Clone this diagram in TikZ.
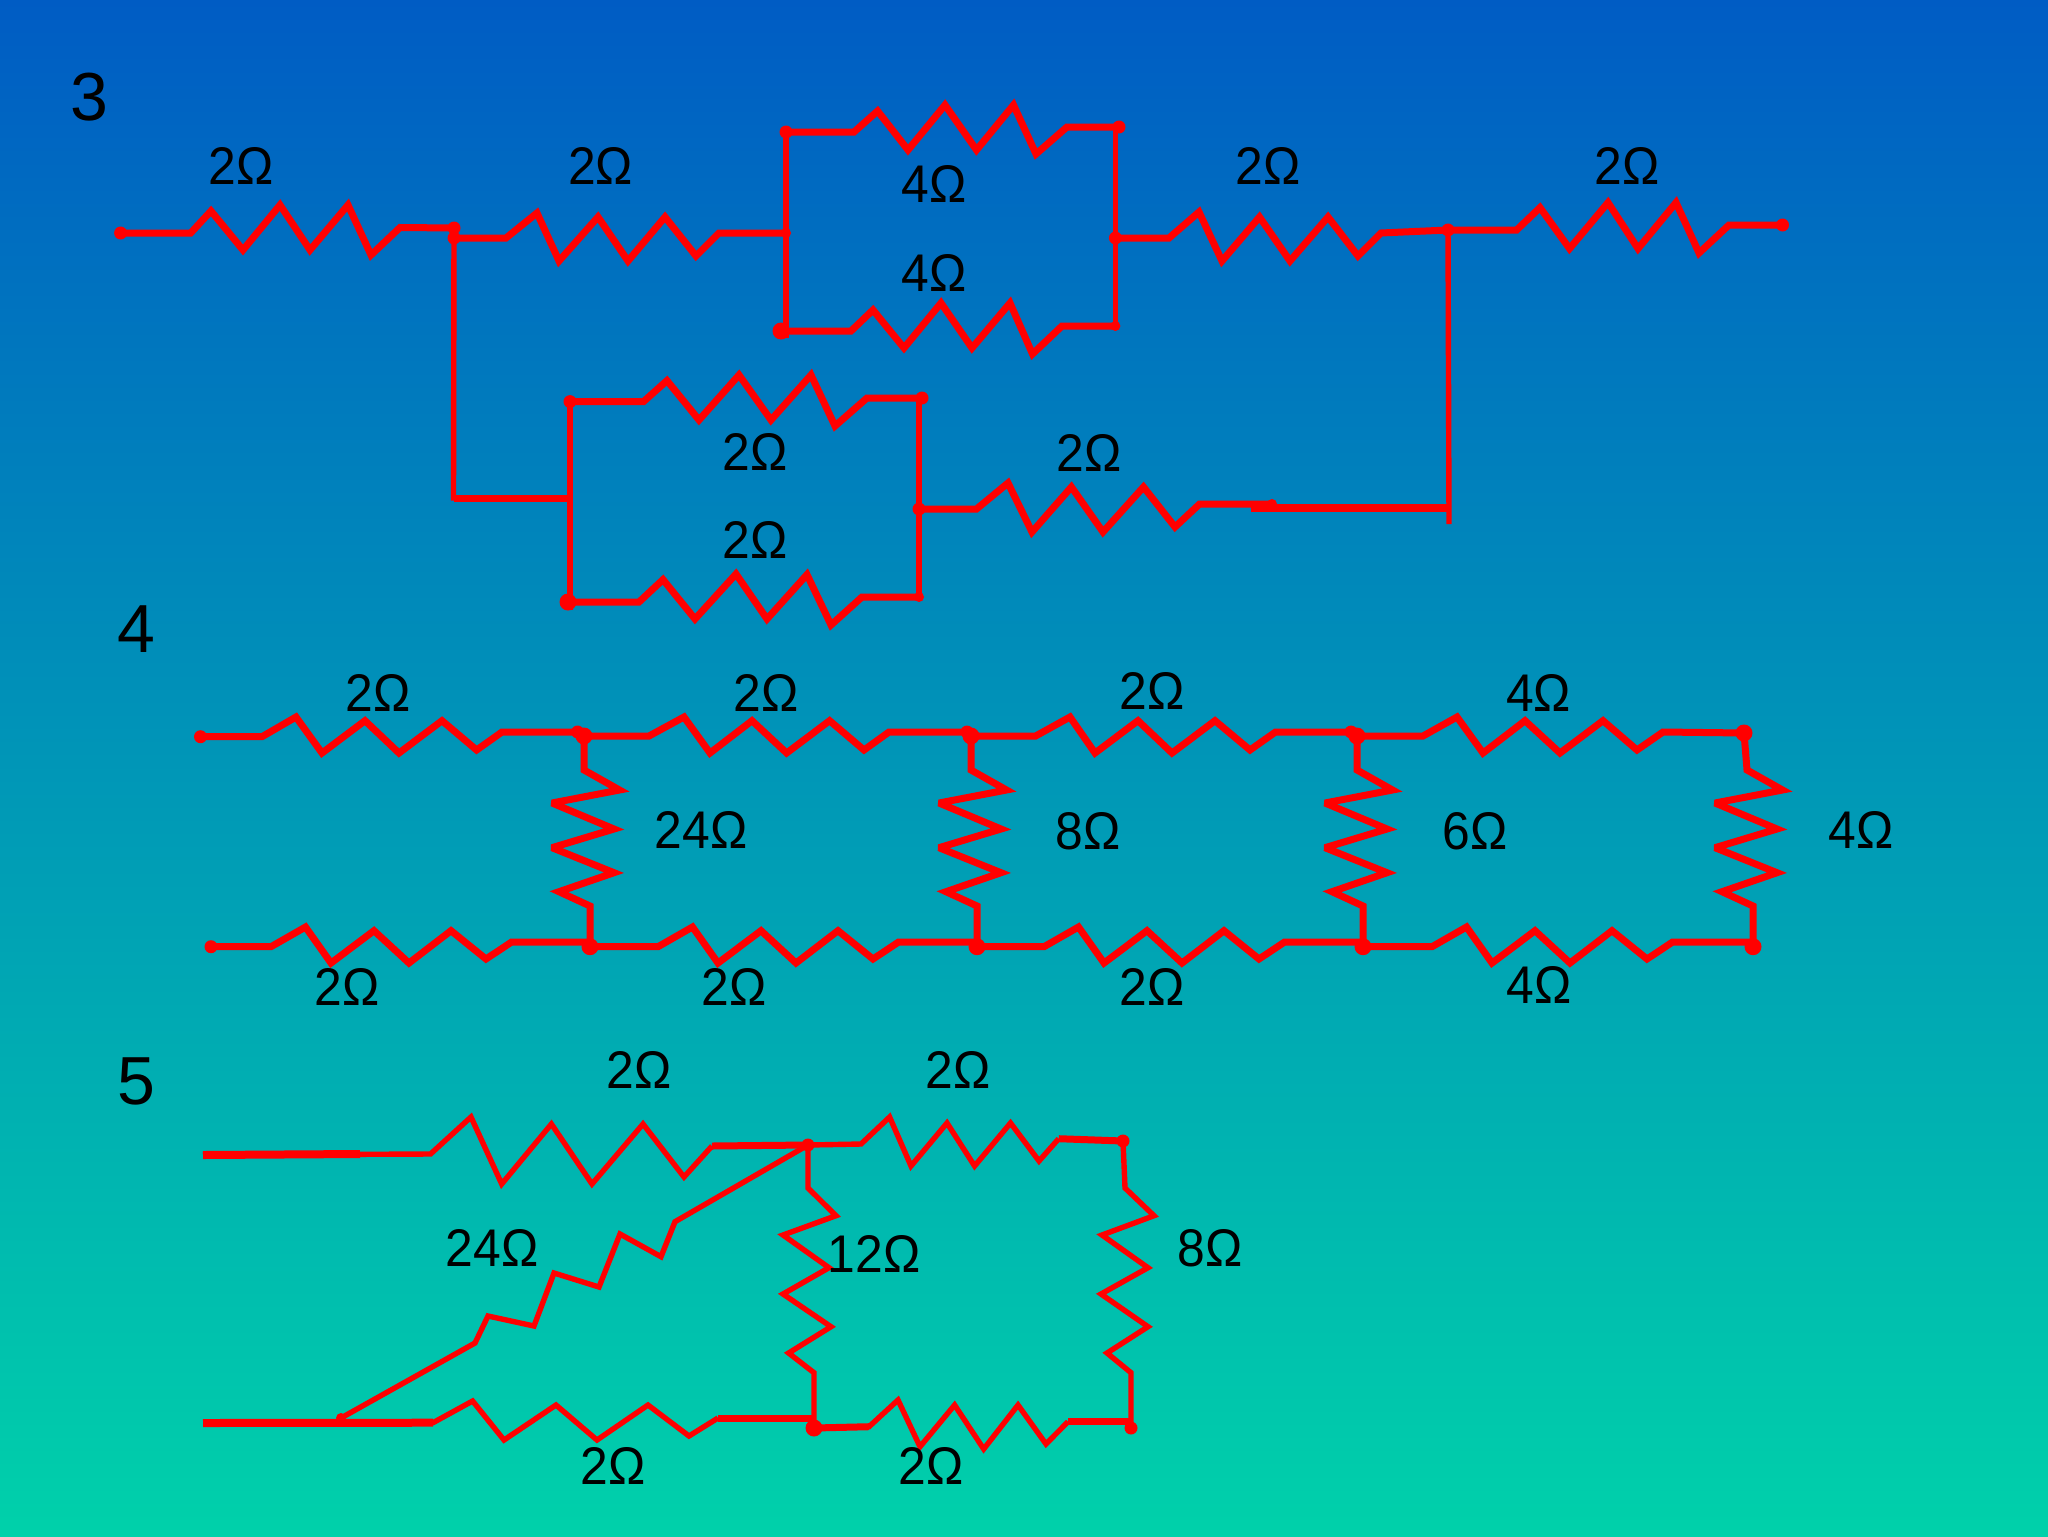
\documentclass[tikz,border=0pt]{standalone}
\usepackage{fontspec}
\usepackage{graphicx}
\setmainfont{Liberation Sans}
\definecolor{wirered}{RGB}{255,0,0}
\definecolor{bgtop}{RGB}{0,92,196}
\definecolor{bgbot}{RGB}{0,209,170}
\newcommand{\ohmtxt}[1]{\scalebox{.94}[1]{#1Ω}}
\tikzset{
  wire/.style={draw=wirered,line width=3.5pt,line join=miter,miter limit=3},
  thinwire/.style={draw=wirered,line width=2.7pt,line join=miter,miter limit=3},
  dot/.style={circle,fill=wirered,inner sep=0pt,minimum size=6.5pt},
  bigdot/.style={circle,fill=wirered,inner sep=0pt,minimum size=8.5pt},
  smalldot/.style={circle,fill=wirered,inner sep=0pt,minimum size=5pt},
  lbl/.style={inner sep=0pt,text=black,font=\fontsize{26.5}{30}\selectfont},
  num/.style={inner sep=0pt,text=black,font=\fontsize{34}{38}\selectfont}
}
\begin{document}
\begin{tikzpicture}[x=0.5pt,y=-0.5pt]
\useasboundingbox (0,0) rectangle (2048,1536);
\shade[top color=bgtop,bottom color=bgbot] (0,0) rectangle (2048,1536);

% ---------- circuit 3 ----------
\node[dot] (a0) at (120.6,233) {};
\node[dot] (a1) at (454,228) {};
\node[dot] (a2) at (454,238) {};
\node[smalldot] (a3) at (786,233) {};
\node[dot] (a4) at (786,132) {};
\node[bigdot] (a5) at (781,331) {};
\node[dot] (a6) at (1119,127) {};
\node[smalldot] (a7) at (1115.4,326) {};
\node[dot] (a8) at (1115.4,238) {};
\node[dot] (a9) at (1448,230) {};
\node[dot] (a10) at (1782.5,225) {};
\node[dot] (b1) at (570,401.6) {};
\node[dot] (b2) at (922,398) {};
\node[bigdot] (b3) at (568,602) {};
\node[smalldot] (b4) at (919,597) {};
\node[dot] (b5) at (919,509) {};
\node[smalldot] (b6) at (1272,504) {};
\coordinate (c1) at (453.5,498);
\coordinate (c2) at (570,498);
\coordinate (c3) at (1449,507.7);
\coordinate (c4) at (1250.6,507.7);
\coordinate (c5) at (1449,524);
\coordinate (c6) at (570,610);
\coordinate (c8) at (786,338);

\draw[wire] (a0.center) -- (190.7,233) -- (211,211) -- (243,250) -- (280,205) -- (310,250) -- (348,205) -- (371,255) -- (400,227.5) -- (a1.center);
\draw[wire] (a2.center) -- (506,238) -- (537,213) -- (559,261) -- (598,217) -- (628,261) -- (665,217) -- (696,256) -- (719,233) -- (a3.center);
\draw[wire] (a4.center) -- (854,132) -- (877.6,111) -- (908,150) -- (945,105) -- (976.5,150) -- (1013.5,105) -- (1036,154) -- (1067,127) -- (a6.center);
\draw[wire] (a5.center) -- (851,331) -- (873,310) -- (904,348) -- (941,303) -- (972,348) -- (1010,303) -- (1032.5,354) -- (1062,326) -- (a7.center);
\draw[wire] (a8.center) -- (1169,238) -- (1199,212) -- (1222,261) -- (1259.5,217) -- (1290,261) -- (1328,217) -- (1358,256) -- (1381,233) -- (a9.center);
\draw[wire] (a9.center) -- (1516.6,230) -- (1540,207.6) -- (1569.5,248.6) -- (1608,202.6) -- (1638,248.6) -- (1676,202.6) -- (1699,253) -- (1729,225) -- (a10.center);
\draw[thinwire] (a4.center) -- (c8);
\draw[thinwire] (a6.center -| a7) -- (a7.center);
\draw[thinwire] (a1.center) -- (c1) -- (c2);
\draw[wire] (c1) -- (c2);
\draw[thinwire] (b1.center) -- (b1 |- c6);
\draw[wire] (b1.center) -- (643.5,401.6) -- (667,380.6) -- (699,420) -- (739,375) -- (771,420) -- (811,375) -- (835,426) -- (867,398) -- (b2.center);
\draw[wire] (b3.center) -- (639,602) -- (663,579.6) -- (695,619) -- (736,574) -- (767,619) -- (807,574.6) -- (831,625) -- (862,597) -- (b4.center);
\draw[thinwire] (b2 -| b4) -- (b4.center);
\draw[wire] (b5.center) -- (976.5,509) -- (1008,483) -- (1032,532) -- (1071.4,487) -- (1103,532) -- (1143.5,487) -- (1175,527) -- (1199.6,504) -- (b6.center);
\draw[wire,line width=4pt] (c4) -- (c3);
\draw[thinwire] (a9.center) -- (c5);

% ---------- circuit 4 ----------
\node[dot] (d0) at (200.5,736.7) {};
\node[dot] (d1) at (577.6,732) {};
\node[bigdot] (d2) at (584,736) {};
\node[dot] (d3) at (967,732) {};
\node[bigdot] (d4) at (971,736) {};
\node[dot] (d5) at (1351,732) {};
\node[bigdot] (d6) at (1357,736) {};
\node[bigdot] (d7) at (1744,733) {};
\node[dot] (e0) at (211,946.7) {};
\node[bigdot] (e1) at (590,946.7) {};
\node[bigdot] (e2) at (977,946.7) {};
\node[bigdot] (e3) at (1363,946.7) {};
\node[bigdot] (e4) at (1753,946.7) {};

\draw[wire] (d0.center) -- (262,736.7) -- (296,717) -- (322,753) -- (365,720.7) -- (399,753) -- (442,720.7) -- (476.6,750) -- (502,732) -- (d1.center);
\draw[wire] (d2.center) -- (649,736) -- (684,717) -- (710,753) -- (752,720.7) -- (786.6,753) -- (829.6,720.7) -- (864,750) -- (889,732) -- (d3.center);
\draw[wire] (d4.center) -- (1035.6,736) -- (1070,717) -- (1095,753) -- (1138,720.7) -- (1172,753) -- (1215,720.7) -- (1250,750) -- (1275.5,732) -- (d5.center);
\draw[wire] (d6.center) -- (1423,736) -- (1457,717) -- (1483,753) -- (1525,720.7) -- (1560,753) -- (1603,720.7) -- (1637,750) -- (1663,732) -- (d7.center);
\draw[wire] (e0.center) -- (271,946.7) -- (305.5,927) -- (331,963) -- (374,930.7) -- (409,963) -- (451,930.7) -- (486,959) -- (511.6,942) -- (590,942);
\draw[wire] (e1.center) -- (658,946.7) -- (692.5,927) -- (718,963) -- (761,930.7) -- (796,963) -- (838,930.7) -- (873,959) -- (898.6,942) -- (977,942);
\draw[wire] (e2.center) -- (1044,946.7) -- (1078.5,927) -- (1104,963) -- (1147,930.7) -- (1182,963) -- (1224,930.7) -- (1259,959) -- (1284.6,942) -- (1363,942);
\draw[wire] (e3.center) -- (1432,946.7) -- (1466.5,927) -- (1492,963) -- (1535,930.7) -- (1570,963) -- (1612,930.7) -- (1647,959) -- (1672.6,942) -- (1753,942);
\draw[wire] (d2.center) -- (584,770) -- (619.5,790) -- (552,803) -- (614,829) -- (552,847.7) -- (614,872.7) -- (559,891.7) -- (590,906) -- (e1.center);
\draw[wire] (d4.center) -- (971,770) -- (1006.5,790) -- (939,803) -- (1001,829) -- (939,847.7) -- (1001,872.7) -- (946,891.7) -- (977,906) -- (e2.center);
\draw[wire] (d6.center) -- (1357,770) -- (1392.5,790) -- (1325,803) -- (1387,829) -- (1325,847.7) -- (1387,872.7) -- (1332,891.7) -- (1363,906) -- (e3.center);
\draw[wire] (d7.center) -- (1747,770) -- (1782.5,790) -- (1715,803) -- (1777,829) -- (1715,847.7) -- (1777,872.7) -- (1722,891.7) -- (1753,906) -- (e4.center);

% ---------- circuit 5 ----------
\coordinate (f0) at (203,1155);
\coordinate (g0) at (203,1423);
\node[dot] (f1) at (808,1145) {};
\node[dot] (f2) at (1123,1141) {};
\node[smalldot] (g1) at (341,1418) {};
\node[bigdot] (g2) at (814,1428) {};
\node[dot] (g3) at (1131,1428) {};

\draw[wire,line width=4pt] (f0) -- (360,1154);
\draw[wire,line width=4pt] (g0) -- (433,1422.7);
\draw[thinwire] (f0) -- (430.5,1154) -- (471,1117) -- (501.7,1184) -- (551.4,1124) -- (592,1184) -- (643,1124) -- (684,1177) -- (712,1146);
\draw[wire] (712,1146) -- (f1.center);
\draw[thinwire] (f1.center) -- (861,1144) -- (889.6,1117) -- (911,1166) -- (947,1123) -- (974.6,1166) -- (1010.5,1123) -- (1039,1161) -- (1058.7,1138.7);
\draw[wire] (1058.7,1138.7) -- (f2.center);
\draw[thinwire] (f2.center) -- (1125,1188) -- (1154,1215.7) -- (1102,1235) -- (1148,1267.7) -- (1101,1294) -- (1148,1326.7) -- (1107,1353) -- (1131,1372.7) -- (g3.center);
\draw[thinwire] (f1.center) -- (808,1188) -- (836,1215.7) -- (783,1235) -- (829,1267.7) -- (783,1294) -- (831,1326.7) -- (788.6,1353) -- (814,1372.7) -- (g2.center);
\draw[thinwire] (g0) -- (433,1422.7) -- (472.6,1401) -- (504,1440) -- (556,1405) -- (597,1440) -- (648,1405) -- (689,1436) -- (718,1418);
\draw[wire] (718,1418) -- (814,1418);
\draw[thinwire] (g2.center) -- (869,1426.7) -- (898,1400) -- (920,1446.7) -- (954.6,1405) -- (983.7,1449) -- (1018,1405) -- (1046,1444) -- (1068,1421.7);
\draw[wire] (g2.center) -- (869,1426.7);
\draw[wire] (1068,1421.7) -- (1131,1421.7);
\draw[thinwire] (g1.center) -- (475,1343) -- (488,1316) -- (534,1326) -- (554,1273) -- (599,1287) -- (620,1234) -- (661,1256.7) -- (675,1221.7) -- (f1.center);

% ---------- labels ----------
\node[num] (n3) at (89.5,97) {3};
\node[num] (n4) at (136,629) {4};
\node[num] (n5) at (136,1081) {5};

\node[lbl] (l1) at (241,166) {\ohmtxt{2}};
\node[lbl] (l2) at (600.6,166) {\ohmtxt{2}};
\node[lbl] (l3) at (934,184) {\ohmtxt{4}};
\node[lbl] (l4) at (934,272.7) {\ohmtxt{4}};
\node[lbl] (l5) at (1268,166) {\ohmtxt{2}};
\node[lbl] (l6) at (1627,166) {\ohmtxt{2}};
\node[lbl] (l7) at (755,451.5) {\ohmtxt{2}};
\node[lbl] (l8) at (755,540) {\ohmtxt{2}};
\node[lbl] (l9) at (1089,452.5) {\ohmtxt{2}};

\node[lbl] (m1) at (378.4,692.5) {\ohmtxt{2}};
\node[lbl] (m2) at (766,692.5) {\ohmtxt{2}};
\node[lbl] (m3) at (1152.4,691) {\ohmtxt{2}};
\node[lbl] (m4) at (1538.5,692.5) {\ohmtxt{4}};
\node[lbl] (m5) at (701,830) {\ohmtxt{24}};
\node[lbl] (m6) at (1088,831) {\ohmtxt{8}};
\node[lbl] (m7) at (1475,831) {\ohmtxt{6}};
\node[lbl] (m8) at (1861,830) {\ohmtxt{4}};
\node[lbl] (m9) at (347,987) {\ohmtxt{2}};
\node[lbl] (m10) at (734,987) {\ohmtxt{2}};
\node[lbl] (m11) at (1152.4,987) {\ohmtxt{2}};
\node[lbl] (m12) at (1539,985) {\ohmtxt{4}};

\node[lbl] (p1) at (639.4,1069.5) {\ohmtxt{2}};
\node[lbl] (p2) at (958,1069.5) {\ohmtxt{2}};
\node[lbl] (p3) at (492,1248) {\ohmtxt{24}};
\node[lbl] (p4) at (874,1254) {\ohmtxt{12}};
\node[lbl] (p5) at (1210,1248) {\ohmtxt{8}};
\node[lbl] (p6) at (613,1466) {\ohmtxt{2}};
\node[lbl] (p7) at (931,1466) {\ohmtxt{2}};
\end{tikzpicture}
\end{document}
